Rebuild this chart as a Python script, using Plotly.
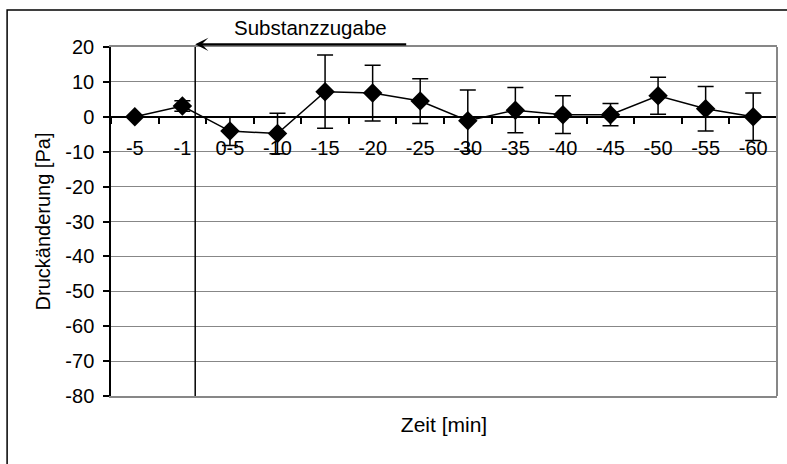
import plotly.graph_objects as go

# Zeitpunkte (Kategorien) und gemessene Druckänderung mit Standardabweichung
zeit = ["-5", "-1", "0-5", "-10", "-15", "-20", "-25", "-30",
        "-35", "-40", "-45", "-50", "-55", "-60"]
druck = [0.0, 3.1, -4.1, -4.8, 7.2, 6.8, 4.5, -1.1, 1.9, 0.6, 0.6, 6.0, 2.3, 0.0]
fehler = [0.0, 1.5, 4.1, 5.8, 10.5, 8.0, 6.4, 8.8, 6.5, 5.4, 3.2, 5.3, 6.4, 6.8]

y_ticks = [20, 10, 0, -10, -20, -30, -40, -50, -60, -70, -80]
y_labels = ["20", "10", "0", "-10", "-20", "-30", "-40", "-50", "-60", "-70", "-80"]
zugabe_pos = 1.27  # Zeitpunkt der Substanzzugabe (Kategorieposition)

FONT = "Arial, Liberation Sans, sans-serif"
GRAU = "#878787"

fig = go.Figure()

fig.add_trace(go.Scatter(
    x=zeit, y=druck, xaxis="x2", yaxis="y",
    mode="lines+markers",
    line=dict(color="black", width=1.5),
    marker=dict(symbol="diamond", size=15, color="black"),
    error_y=dict(type="data", array=fehler, visible=True,
                 color="black", thickness=1.5, width=8),
    showlegend=False,
))

cat_range = [-0.5, len(zeit) - 0.5]

fig.update_layout(
    width=787, height=464,
    margin=dict(l=111, r=10, t=47, b=68),
    paper_bgcolor="white", plot_bgcolor="white",
    font=dict(family=FONT, size=20, color="black"),
    xaxis=dict(
        type="category", categoryorder="array", categoryarray=zeit,
        range=cat_range, showgrid=False, zeroline=False,
        showticklabels=False, ticks="",
        showline=True, linecolor=GRAU, linewidth=2, mirror=True,
        title=dict(text="Zeit [min]", font=dict(size=21), standoff=20),
    ),
    xaxis2=dict(
        type="category", categoryorder="array", categoryarray=zeit,
        range=cat_range, overlaying="x", anchor="free", position=0.8,
        showgrid=False, zeroline=False,
        showline=True, linecolor="black", linewidth=1.5,
        ticks="outside", tickson="boundaries", ticklen=6,
        tickcolor="black", tickwidth=1.5,
        ticklabelstandoff=13, tickfont=dict(size=20),
        layer="below traces",
    ),
    yaxis=dict(
        range=[-80, 20], tickvals=y_ticks, ticktext=y_labels, zeroline=False,
        showgrid=True, gridcolor=GRAU, gridwidth=1,
        showline=True, linecolor="black", linewidth=1.5,
        ticks="outside", ticklen=6, tickcolor="black", tickwidth=1.5,
        ticklabelstandoff=5, tickfont=dict(size=20),
        title=dict(text="Druckänderung [Pa]", font=dict(size=20), standoff=9),
    ),
    shapes=[
        # rechter Rand der Zeichenfläche
        dict(type="line", xref="paper", yref="paper", x0=1, x1=1, y0=0, y1=1,
             line=dict(color=GRAU, width=2)),
        # Markierung der Substanzzugabe
        dict(type="line", xref="x", yref="y", x0=zugabe_pos, x1=zugabe_pos,
             y0=-80, y1=20, line=dict(color="black", width=1.5)),
        # Diagrammrahmen
        dict(type="rect", xref="paper", yref="paper",
             x0=-0.156, x1=1.08, y0=-0.3, y1=1.106,
             line=dict(color="black", width=1.5), fillcolor="rgba(0,0,0,0)"),
    ],
    annotations=[
        # Pfeil zur Substanzzugabe, knapp über dem oberen Rand
        dict(x=zugabe_pos, y=1.0077, xref="x", yref="paper",
             ax=5.8, ay=0, axref="x", ayref="pixel",
             text=" ", showarrow=True, arrowhead=3, arrowsize=1.0,
             arrowwidth=2.2, arrowcolor="black", standoff=0),
        dict(x=3.7, y=1.057, xref="x", yref="paper", text="Substanzzugabe",
             xanchor="center", yanchor="middle",
             showarrow=False, font=dict(size=20.5)),
    ],
)

fig.write_html("out.html")
